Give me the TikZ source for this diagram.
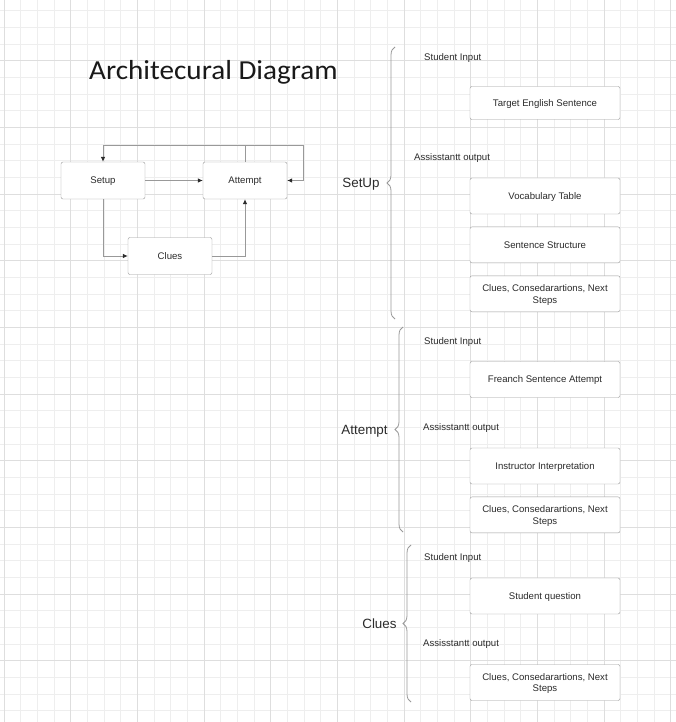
\documentclass[tikz,border=0pt]{standalone}
\usepackage{fontspec}
\setmainfont{Liberation Sans}
\newfontfamily\titlefont{Carlito}
\usetikzlibrary{arrows.meta, positioning, decorations.pathreplacing}
\definecolor{gridminor}{HTML}{EEEEEE}
\definecolor{gridmajor}{HTML}{DEDEDE}
\definecolor{ink}{HTML}{2B2B2B}
\definecolor{edge}{HTML}{999999}

\begin{document}
\begin{tikzpicture}[
    x=1pt, y=-1pt,
    font=\fontsize{9.6}{11.5}\selectfont, text=ink,
    box/.style={draw=edge, rounded corners=2pt, fill=white, align=center, minimum width=150pt, minimum height=36pt, inner sep=2pt, text depth=0pt},
    blk/.style={draw=edge, rounded corners=2pt, fill=white, minimum width=84pt, minimum height=37pt, text depth=0pt},
    arr/.style={-{Latex[length=5pt, width=4.5pt, color=ink]}, draw=edge, line width=0.8pt},
    brc/.style={decorate, decoration={brace, amplitude=8pt}, draw=edge, line width=0.8pt},
    lbl/.style={anchor=west, inner sep=0pt, text depth=0pt},
    sec/.style={font=\fontsize{13.4}{16}\selectfont, inner sep=0pt, text depth=0pt}
  ]
  \useasboundingbox (0,0) rectangle (676,722);
  \fill[white] (0,0) rectangle (676,722);
  % grid
  \foreach \i in {0,...,40} \draw[gridminor, line width=0.7pt] ({4+16.667*\i},0) -- ++(0,722);
  \foreach \j in {0,...,42} \draw[gridminor, line width=0.7pt] (0,{10.7+16.667*\j}) -- ++(676,0);
  \foreach \i in {0,4,...,40} \draw[gridmajor, line width=0.7pt] ({4+16.667*\i},0) -- ++(0,722);
  \foreach \j in {3,7,...,39} \draw[gridmajor, line width=0.7pt] (0,{10.7+16.667*\j}) -- ++(676,0);

  \node[font=\titlefont\fontsize{27.5}{32}\selectfont, text=black!90, anchor=base west, inner sep=0pt] (title) at (89,80) {\scalebox{1.06}[1]{Architecural Diagram}};

  % flow
  \node[blk] (setup)   at (103,180.5) {Setup};
  \node[blk] (attempt) at (245,180.5) {Attempt};
  \node[blk] (clues)   at (170,256)   {Clues};
  \coordinate (loopR) at (303,145);
  \draw[arr] (setup) -- (attempt);
  \draw[arr] (setup.south) |- (clues.west);
  \draw[arr] (clues.east) -| (attempt.south);
  \draw[arr] (attempt.north) -- (attempt.north |- loopR) -| (setup.north);
  \draw[arr] (attempt.north) |- (loopR) |- (attempt.east);

  % SetUp
  \coordinate (suTop) at (395,47);
  \coordinate (suBot) at (395,319);
  \draw[brc] (suBot) -- node[sec, left=15pt] (suLbl) {SetUp} (suTop);
  \node[lbl] (suIn)  at (424,57.5)  {Student Input};
  \node[lbl] (suOut) at (414,157.5) {Assisstantt output};
  \node[box, minimum height=33pt] (tgt) at (545,103) {Target English Sentence};
  \node[box] (voc) at (545,196) {Vocabulary Table};
  \node[box, below=12.5pt of voc]    (struct) {Sentence Structure};
  \node[box, below=12.5pt of struct] (nxtA)   {Clues, Consedarartions, Next\\Steps};

  % Attempt
  \coordinate (atTop) at (403,327);
  \coordinate (atBot) at (403,532);
  \draw[brc] (atBot) -- node[sec, left=15pt] (atLbl) {Attempt} (atTop);
  \node[lbl] (atIn)  at (424,341)   {Student Input};
  \node[lbl] (atOut) at (423,427.5) {Assisstantt output};
  \node[box] (fra)    at (545,379.5) {Freanch Sentence Attempt};
  \node[box] (interp) at (545,466)   {Instructor Interpretation};
  \node[box, below=12.5pt of interp] (nxtB) {Clues, Consedarartions, Next\\Steps};

  % Clues
  \coordinate (clTop) at (411,545);
  \coordinate (clBot) at (411,702);
  \draw[brc] (clBot) -- node[sec, left=14pt] (clLbl) {Clues} (clTop);
  \node[lbl] (clIn)  at (424,557.5) {Student Input};
  \node[lbl] (clOut) at (423,643.5) {Assisstantt output};
  \node[box] (quest) at (545,596)   {Student question};
  \node[box] (nxtC)  at (545,682.5) {Clues, Consedarartions, Next\\Steps};
\end{tikzpicture}
\end{document}
